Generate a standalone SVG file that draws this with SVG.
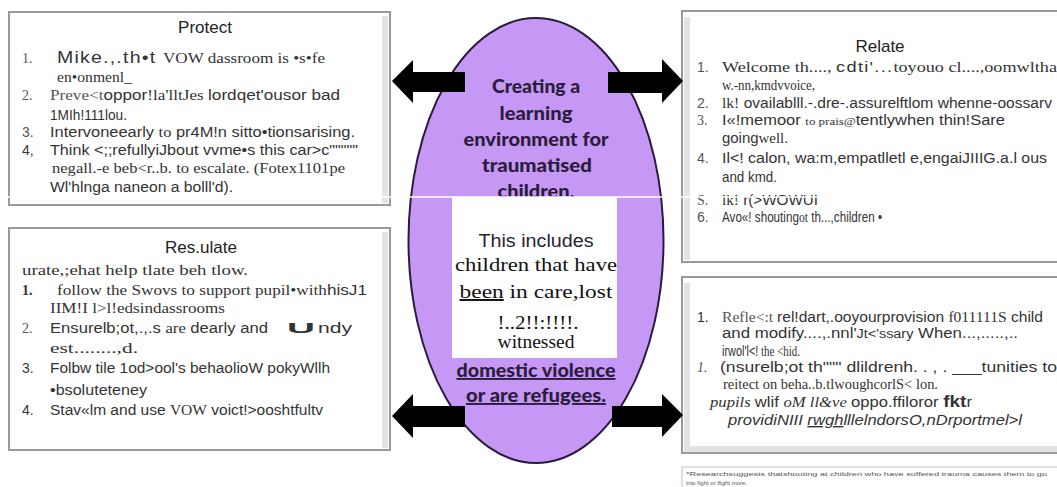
<svg xmlns="http://www.w3.org/2000/svg" width="1057" height="487" viewBox="0 0 1057 487">
<style>
.box{fill:#fff;stroke:#9a9a9a;stroke-width:2}
.strip{fill:#e3e3e3}
.t{font-family:"Liberation Sans",Arial,sans-serif;font-size:14px;fill:#333}
.s{font-family:"Liberation Serif","Times New Roman",serif}
.n{fill:#555}
.h{font-family:"Liberation Sans",Arial,sans-serif;font-size:17px;fill:#222;text-anchor:middle}
.c{font-family:Lato,"Open Sans",sans-serif;font-weight:900;font-size:19px;fill:#2b1d3a;text-anchor:middle}
.w{font-family:"Liberation Serif","Times New Roman",serif;font-size:19.5px;fill:#111;text-anchor:middle}
.arrow{fill:#000}
.fn{font-family:"Liberation Sans",Arial,sans-serif;font-size:6px;fill:#555}
</style>
<rect width="1057" height="487" fill="#fff"/>

<g id="protect">
<rect class="box" x="9" y="12" width="381" height="193"/>
<rect class="strip" x="382" y="16" width="6" height="187"/>
<text class="h" x="205" y="33">Protect</text>
<text class="t s n" x="22" y="63" font-size="16">1.</text>
<text class="t" x="57" y="63" textLength="268" lengthAdjust="spacingAndGlyphs"><tspan font-size="16" letter-spacing="1">Mike.,.th•t </tspan><tspan class="s">VOW dassroom is •s•fe</tspan></text>
<text class="t s" x="57" y="82" font-size="16" textLength="75" lengthAdjust="spacingAndGlyphs">en•onmenl_</text>
<text class="t s n" x="22" y="100" font-size="15">2.</text>
<text class="t" x="50" y="100" textLength="290" lengthAdjust="spacingAndGlyphs"><tspan class="s n">Preve&lt;t</tspan>oppor<tspan class="s">!la'lltJes </tspan>lordqet'ousor bad</text>
<text class="t" x="50" y="120" textLength="77" lengthAdjust="spacingAndGlyphs">1MIh!111lou.</text>
<text class="t n" x="22" y="137">3.</text>
<text class="t" x="50" y="137" textLength="305" lengthAdjust="spacingAndGlyphs">Intervoneearly <tspan class="s">to</tspan> pr4M!n sitto•tionsarising.</text>
<text class="t" x="22" y="155">4,</text>
<text class="t" x="50" y="155" textLength="308" lengthAdjust="spacingAndGlyphs">Think &lt;;;refullyiJbout vvme•s this car&gt;c"""""</text>
<text class="t s" x="52" y="173" textLength="293" lengthAdjust="spacingAndGlyphs">negall.-e beb&lt;r..b. to escalate. (Fotex1101pe</text>
<text class="t" x="50" y="192" textLength="183" lengthAdjust="spacingAndGlyphs">Wl'hlnga naneon a bolll'd).</text>
</g>

<g id="regulate">
<rect class="box" x="9" y="228" width="381" height="222"/>
<rect class="strip" x="382" y="232" width="6" height="216"/>
<text class="h" x="201" y="253">Res.ulate</text>
<text class="t s" x="22" y="275" font-size="15" textLength="226" lengthAdjust="spacingAndGlyphs">urate,;ehat help tlate beh tlow.</text>
<text class="t s" x="22" y="295" font-size="16" font-weight="bold">1.</text>
<text class="t s" x="57" y="295" font-size="15" textLength="310" lengthAdjust="spacingAndGlyphs">follow the Swovs to support pupil•with<tspan class="t">hisJ1</tspan></text>
<text class="t s" x="50" y="313" font-size="15" textLength="175" lengthAdjust="spacingAndGlyphs">IIM!I l&gt;l!edsindassrooms</text>
<text class="t s n" x="22" y="333" font-size="15">2.</text>
<text class="t" x="50" y="333" textLength="218" lengthAdjust="spacingAndGlyphs">Ensurelb;ot,.,.s <tspan class="s">are</tspan> dearly and</text>
<text class="t" x="287" y="333" font-size="17" font-weight="bold" textLength="28" lengthAdjust="spacingAndGlyphs">U</text>
<text class="t" x="318" y="333" textLength="34" lengthAdjust="spacingAndGlyphs">ndy</text>
<text class="t s" x="50" y="353" font-size="15" textLength="88" lengthAdjust="spacingAndGlyphs">est........,d.</text>
<text class="t" x="22" y="373">3.</text>
<text class="t" x="50" y="373" textLength="280" lengthAdjust="spacingAndGlyphs">Folbw tile 1od&gt;ool's behaolioW pokyWllh</text>
<text class="t" x="50" y="395" textLength="97" lengthAdjust="spacingAndGlyphs">•bsoluteteney</text>
<text class="t" x="22" y="415">4.</text>
<text class="t" x="50" y="415" textLength="273" lengthAdjust="spacingAndGlyphs">Stav«lm and use <tspan class="s">VOW</tspan> voict!&gt;ooshtfultv</text>
</g>

<g id="centre">
<ellipse cx="536" cy="240.5" rx="127.5" ry="222.5" fill="#c598f6" stroke="#2b1a3d" stroke-width="2"/>
<text class="c" x="536" y="93" textLength="88" lengthAdjust="spacingAndGlyphs">Creating a</text>
<text class="c" x="536" y="120" textLength="73" lengthAdjust="spacingAndGlyphs">learning</text>
<text class="c" x="536" y="146" textLength="145" lengthAdjust="spacingAndGlyphs">environment for</text>
<text class="c" x="537" y="172" textLength="110" lengthAdjust="spacingAndGlyphs">traumatised</text>
<text class="c" x="536" y="198" textLength="77" lengthAdjust="spacingAndGlyphs">children.</text>
<rect x="452" y="197" width="165" height="161" fill="#fff"/>
<text x="536" y="247" font-family="Liberation Sans,Arial,sans-serif" font-size="18" fill="#2a2233" text-anchor="middle" textLength="115" lengthAdjust="spacingAndGlyphs">This includes</text>
<text class="w" x="536" y="271" textLength="162" lengthAdjust="spacingAndGlyphs">children that have</text>
<text class="w" x="536" y="298" textLength="153" lengthAdjust="spacingAndGlyphs"><tspan text-decoration="underline">been</tspan> in care,lost</text>
<text class="w" x="538" y="329" font-size="21" textLength="81" lengthAdjust="spacingAndGlyphs">!..2!!:!!!!.</text>
<text class="w" x="536" y="348" font-size="21">witnessed</text>
<text class="c" x="536" y="377" text-decoration="underline" textLength="159" lengthAdjust="spacingAndGlyphs">domestic violence</text>
<text class="c" x="536" y="402" text-decoration="underline" textLength="140" lengthAdjust="spacingAndGlyphs">or are refugees.</text>
</g>

<g id="relate">
<rect class="box" x="682" y="11" width="380" height="251"/>
<rect class="strip" x="684" y="17" width="6" height="243"/>
<text class="h" x="880" y="52">Relate</text>
<text class="t n" x="697" y="72">1.</text>
<text class="t s" x="722" y="72" font-size="15" textLength="335" lengthAdjust="spacingAndGlyphs">Welcome th...., <tspan class="t" font-size="17" letter-spacing="1">cdti'...</tspan>toyouo cl....,oomwltha</text>
<text class="t s" x="722" y="90" font-size="15" textLength="93" lengthAdjust="spacingAndGlyphs">w.-nn,kmdvvoice,</text>
<text class="t n" x="697" y="108">2.</text>
<text class="t" x="722" y="108" textLength="330" lengthAdjust="spacingAndGlyphs"><tspan class="s">lk!</tspan> ovailablll.-.dre-.assurelftlom whenne-oossarv</text>
<text class="t s n" x="697" y="125" font-size="15">3.</text>
<text class="t" x="722" y="125" textLength="283" lengthAdjust="spacingAndGlyphs">I«!memoor <tspan class="s" font-size="11">to prais@</tspan>tentlywhen thin!Sare</text>
<text class="t" x="722" y="143" textLength="66" lengthAdjust="spacingAndGlyphs">going<tspan class="s">well.</tspan></text>
<text class="t n" x="697" y="163">4.</text>
<text class="t" x="722" y="163" textLength="325" lengthAdjust="spacingAndGlyphs">Il&lt;! calon, wa:m,empatlletl e,engaiJIIIG.a.l ous</text>
<text class="t" x="722" y="182" textLength="55" lengthAdjust="spacingAndGlyphs">and kmd.</text>
<text class="t s n" x="697" y="205" font-size="15">S.</text>
<text class="t" x="722" y="205" font-size="13" textLength="96" lengthAdjust="spacingAndGlyphs"><tspan class="s">lk!</tspan> r(&gt;WOWUI</text>
<text class="t n" x="697" y="222">6.</text>
<text class="t" x="722" y="222" font-size="13" textLength="160" lengthAdjust="spacingAndGlyphs">Avo«! shouting<tspan class="s">ot</tspan> th...,children •</text>
</g>

<g id="reflect">
<rect class="box" x="682" y="277" width="380" height="176"/>
<rect class="strip" x="684" y="283" width="6" height="168"/>
<rect class="strip" x="684" y="446" width="378" height="6"/>
<text class="t" x="697" y="322">1.</text>
<text class="t" x="722" y="322" textLength="321" lengthAdjust="spacingAndGlyphs"><tspan class="s n">Refle&lt;:t </tspan>rel!dart,.ooyourprovision <tspan class="s">f011111S</tspan> child</text>
<text class="t" x="722" y="338" font-size="13.5" textLength="296" lengthAdjust="spacingAndGlyphs">and modify....,.nnl'<tspan font-size="12">Jt&lt;'ssary</tspan> When...,.....,..</text>
<text class="t" x="722" y="356" font-size="13" textLength="78" lengthAdjust="spacingAndGlyphs">irwol'l&lt;!<tspan class="s"> the &lt;hid.</tspan></text>
<text class="t s n" x="697" y="372" font-size="15" font-style="italic">1.</text>
<text class="t" x="720" y="372" textLength="337" lengthAdjust="spacingAndGlyphs">(nsurelb;ot th""" dlildrenh. . , . ___tunities to</text>
<text class="t s" x="723" y="389" font-size="15" textLength="215" lengthAdjust="spacingAndGlyphs">reitect on beha..b.tlwoughcorlS&lt; lon.</text>
<text class="t" x="710" y="407" textLength="262" lengthAdjust="spacingAndGlyphs"><tspan class="s" font-style="italic">pupils </tspan>wlif <tspan class="s" font-style="italic">oM ll&amp;ve </tspan>oppo.ffiloror <tspan font-weight="bold" font-size="16">fkt</tspan>r</text>
<text class="t" x="728" y="425" font-style="italic" textLength="294" lengthAdjust="spacingAndGlyphs">providiNIII <tspan text-decoration="underline">rwgh</tspan>lllelndorsO,nDrportmel&gt;l</text>
</g>

<g id="footnote">
<rect x="682" y="467" width="380" height="30" fill="#fff" stroke="#b9c3ca" stroke-width="1"/>
<text class="fn" x="686" y="476" textLength="361" lengthAdjust="spacingAndGlyphs">*Researchsuggests thatshouting at children who have suffered trauma causes them to go</text>
<text class="fn" x="686" y="485">into fight or flight more.</text>
</g>

<g id="connectors">
<polygon class="arrow" points="392,81 413,60 413,72 465,72 465,92 413,92 413,103"/>
<polygon class="arrow" points="683,81 662,59 662,72 608,72 608,93 662,93 662,103"/>
<polygon class="arrow" points="392,416 413,394 413,406 465,406 465,427 413,427 413,438"/>
<polygon class="arrow" points="683,415 662,394 662,406 612,406 612,427 662,427 662,437"/>
</g>

<line x1="0" y1="197" x2="1057" y2="197" stroke="#fff" stroke-width="1.5"/>
</svg>
